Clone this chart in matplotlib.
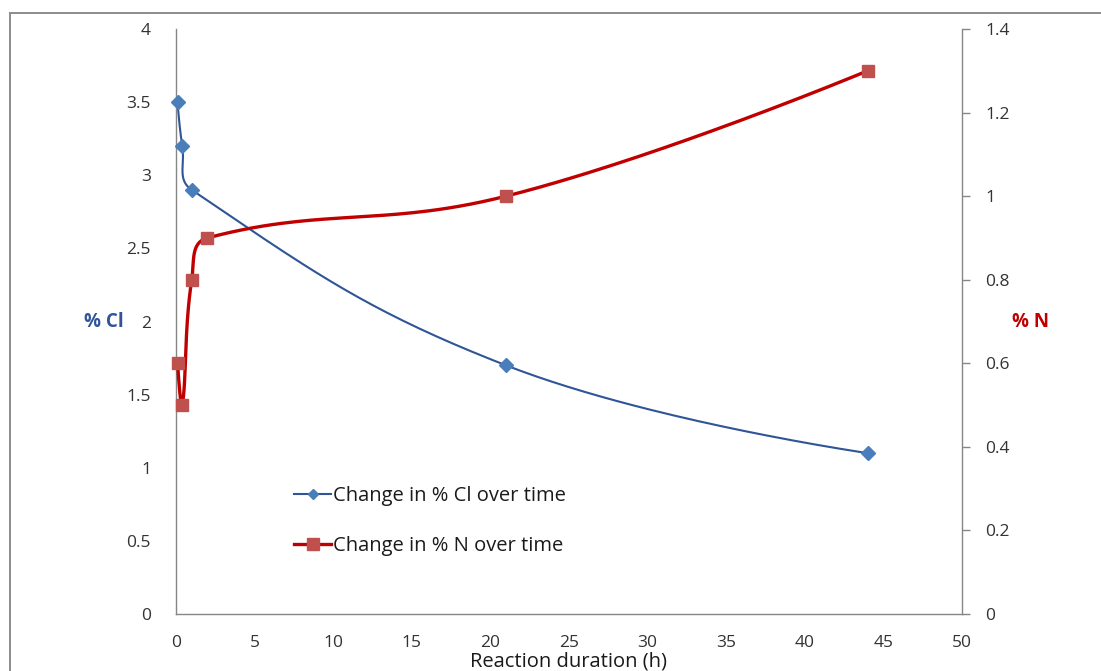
import numpy as np
import matplotlib
matplotlib.use("Agg")
import matplotlib.pyplot as plt
from matplotlib.patches import Rectangle

# Reaction duration (h) and composition measurements
time_cl = [0.1, 0.4, 1, 21, 44]
pct_cl = [3.5, 3.2, 2.9, 1.7, 1.1]

time_n = [0.1, 0.4, 1, 2, 21, 44]
pct_n = [0.6, 0.5, 0.8, 0.9, 1.0, 1.3]

x_ticks = [0, 5, 10, 15, 20, 25, 30, 35, 40, 45, 50]
cl_ticks = [0, 0.5, 1, 1.5, 2, 2.5, 3, 3.5, 4]
n_ticks = [0, 0.2, 0.4, 0.6, 0.8, 1, 1.2, 1.4]

label_cl = "Change in % Cl over time"
label_n = "Change in % N over time"

FONT = ["Open Sans", "DejaVu Sans"]
plt.rcParams["font.family"] = FONT

W, H = 1101, 671
fig = plt.figure(figsize=(W / 100, H / 100), dpi=100)

left, right, top, bottom = 176, 962, 29, 614
ax = fig.add_axes([left / W, (H - bottom) / H, (right - left) / W, (bottom - top) / H])
ax2 = ax.twinx()

ax.set_xlim(0, 50)
ax.set_ylim(0, 4)
ax2.set_ylim(0, 1.4)


def smooth_curve(axis, xs, ys, tension=0.42, n=60):
    """Bezier smoothing computed in display space, returned in data space."""
    pts = axis.transData.transform(np.column_stack([xs, ys]))
    out = [pts[0]]
    m = len(pts)
    for i in range(m - 1):
        p0 = pts[i - 1] if i > 0 else pts[i]
        p1 = pts[i]
        p2 = pts[i + 1]
        p3 = pts[i + 2] if i + 2 < m else pts[i + 1]
        d01 = np.linalg.norm(p1 - p0)
        d12 = np.linalg.norm(p2 - p1)
        d23 = np.linalg.norm(p3 - p2)
        if i > 0 and (d01 + d12) > 0:
            c1 = p1 + tension * d12 / (d01 + d12) * (p2 - p0)
        else:
            c1 = p1
        if i + 2 < m and (d12 + d23) > 0:
            c2 = p2 - tension * d12 / (d12 + d23) * (p3 - p1)
        else:
            c2 = p2
        t = np.linspace(0, 1, n)[1:, None]
        seg = ((1 - t) ** 3) * p1 + 3 * ((1 - t) ** 2) * t * c1 \
            + 3 * (1 - t) * t ** 2 * c2 + t ** 3 * p2
        out.extend(seg)
    out = np.array(out)
    data = axis.transData.inverted().transform(out)
    return data[:, 0], data[:, 1]


blue_line = "#2F5597"
blue_mark = "#4A7EBB"
red_line = "#C00000"
red_mark = "#C0504D"

sx, sy = smooth_curve(ax, time_cl, pct_cl)
ax.plot(sx, sy, color=blue_line, lw=1.5, zorder=2)
ax.plot(time_cl, pct_cl, ls="none", marker="D", ms=7, color=blue_mark,
        mec=blue_mark, zorder=3, clip_on=False)

rx, ry = smooth_curve(ax2, time_n, pct_n)
ax2.plot(rx, ry, color=red_line, lw=2.4, zorder=2)
ax2.plot(time_n, pct_n, ls="none", marker="s", ms=8, color=red_mark,
         mec=red_mark, zorder=3, clip_on=False)

# Legend entries drawn as proxy handles
h1, = ax.plot([], [], color=blue_line, lw=1.5, marker="D", ms=5,
              mfc=blue_mark, mec=blue_mark)
h2, = ax.plot([], [], color=red_line, lw=2.4, marker="s", ms=8,
              mfc=red_mark, mec=red_mark)
leg = ax2.legend([h1, h2], [label_cl, label_n], loc="upper left",
                 bbox_to_anchor=((286 - left) / (right - left), (bottom - 478) / (bottom - top)),
                 frameon=False, handlelength=1.85, handletextpad=0.1,
                 labelspacing=1.5, borderaxespad=0,
                 prop={"family": FONT, "size": 14.5})
for t in leg.get_texts():
    t.set_color("#1a1a1a")

grey = "#868686"
tick_color = "#333333"

ax.set_xticks(x_ticks)
ax.set_xticklabels([f"{v:g}" for v in x_ticks])
ax.set_yticks(cl_ticks)
ax.set_yticklabels([f"{v:g}" for v in cl_ticks])
ax2.set_yticks(n_ticks)
ax2.set_yticklabels([f"{v:g}" for v in n_ticks])

ax.tick_params(axis="x", length=0, pad=15, labelsize=12.5, labelcolor=tick_color)
ax.tick_params(axis="y", length=0, pad=18, labelsize=12.5, labelcolor=tick_color)
ax2.tick_params(axis="y", length=6, width=1, color=grey, pad=11,
                labelsize=12.5, labelcolor=tick_color)

for s in ["top", "right"]:
    ax.spines[s].set_visible(False)
for s in ["top", "left", "bottom"]:
    ax2.spines[s].set_visible(False)
ax.spines["left"].set_color(grey)
ax.spines["bottom"].set_color(grey)
ax2.spines["right"].set_color(grey)
for sp in [ax.spines["left"], ax.spines["bottom"], ax2.spines["right"]]:
    sp.set_linewidth(1)

ax.set_ylabel("% Cl", rotation=0, fontsize=13.5, fontweight="bold",
              color="#2F5597", va="center", ha="center")
ax.yaxis.set_label_coords((104 - left) / (right - left), (bottom - 322) / (bottom - top))
ax2.set_ylabel("% N", rotation=0, fontsize=13.5, fontweight="bold",
               color="#C00000", va="center", ha="center")
ax2.yaxis.set_label_coords((1031 - left) / (right - left), (bottom - 322) / (bottom - top))
ax.set_xlabel("Reaction duration (h)", fontsize=14.5, color="#1a1a1a", va="center")
ax.xaxis.set_label_coords(0.5, (bottom - 662) / (bottom - top))

# Chart-area frame
fig.patches.append(Rectangle((10 / W, -0.05), 1.2, (H - 13) / H + 0.05,
                             transform=fig.transFigure, fill=False,
                             edgecolor="#8c8c8c", lw=1.4))

fig.savefig("out.png", dpi=100)
